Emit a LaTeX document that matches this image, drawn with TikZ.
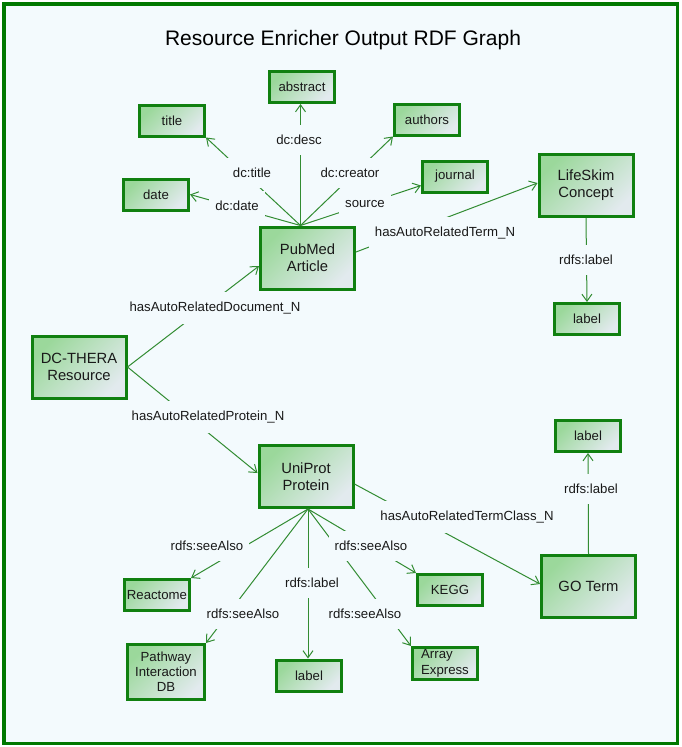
\documentclass[tikz,border=0pt]{standalone}
\usepackage{fontspec}
\setmainfont{Liberation Sans}
\usetikzlibrary{arrows.meta}
\definecolor{bgc}{RGB}{243,250,253}
\definecolor{framec}{RGB}{0,120,0}
\definecolor{boxc}{RGB}{16,128,16}
\definecolor{edgec}{RGB}{50,140,50}
\definecolor{gA}{RGB}{155,216,155}
\definecolor{gB}{RGB}{226,234,238}
\definecolor{txt}{RGB}{25,25,25}
\begin{document}
\begin{tikzpicture}[x=1pt,y=1pt,
  box/.style={draw=boxc, line width=3pt, top color=gA, bottom color=gB, shading angle=45, inner sep=0pt, text=txt, align=center},
  small/.style={box, minimum width=65pt, minimum height=31pt, font=\fontsize{13.2}{15.5}\selectfont},
  big/.style={box, minimum width=94pt, minimum height=62pt, font=\fontsize{14.8}{16.7}\selectfont},
  lbl/.style={fill=bgc, inner xsep=6pt, inner ysep=10pt, text=txt, font=\fontsize{13.2}{15}\selectfont},
  rel/.style={draw=edgec, line width=1pt, -{Straight Barb[length=7pt,width=10pt]}}]
\useasboundingbox (0,0) rectangle (681,-747);
\fill[white] (0,0) rectangle (681,-747);
\draw[framec, line width=3.5pt, fill=bgc] (3.75,-3.75) rectangle (677.25,-743.25);

\node[font=\fontsize{21}{25}\selectfont, text=black, anchor=base] (ttl) at (343,-45) {Resource Enricher Output RDF Graph};

% nodes
\node[small] (abstract) at (302,-87) {abstract};
\node[small] (title) at (172,-120.5) {title};
\node[small] (authors) at (427,-119.5) {authors};
\node[small] (date) at (156,-194.5) {date};
\node[small] (journal) at (455,-176.5) {journal};
\node[big] (pub) at (307.5,-258) {PubMed\\Article};
\node[big] (life) at (586,-185.5) {LifeSkim\\Concept};
\node[small] (lab1) at (587,-319) {label};
\node[big] (dc) at (79,-367) {DC-THERA\\Resource};
\node[big] (uni) at (306,-476.5) {UniProt\\Protein};
\node[small] (lab2) at (588,-436) {label};
\node[big] (go) at (588.5,-586.5) {GO Term};
\node[small] (reactome) at (157,-595) {Reactome};
\node[small] (kegg) at (450,-590) {KEGG};
\node[box, minimum width=77pt, minimum height=55pt, font=\fontsize{13.2}{15}\selectfont] (pathway) at (166,-672) {Pathway\\Interaction\\DB};
\node[small] (lab3) at (309,-675.5) {label};
\node[small, align=left, minimum height=32pt, font=\fontsize{13.2}{16}\selectfont] (array) at (445,-663.5) {Array\\Express};

% connectors
\coordinate (pubtop) at ([xshift=-7pt]pub.north);
\draw[rel] (pubtop) -- (pubtop |- abstract.south);
\draw[rel] (pubtop) -- (title.south east);
\draw[rel] (pubtop) -- (date.east);
\draw[rel] (pubtop) -- (authors.south west);
\draw[rel] (pubtop) -- ([yshift=-9pt]journal.west);
\draw[rel] ([yshift=6pt]pub.east) -- ([yshift=2.5pt]life.west);
\draw[rel] (life.south) -- (lab1.north);
\draw[rel] (dc.east) -- ([yshift=-8pt]pub.west);
\draw[rel] (dc.east) -- ([yshift=3.5pt]uni.west);
\draw[rel] ([yshift=-7.5pt]uni.east) -- ([yshift=2.5pt]go.west);
\draw[rel] (go.north) -- (lab2.south);
\coordinate (unibot) at ([xshift=2pt]uni.south);
\draw[rel] (unibot) -- (reactome.north east);
\draw[rel] (unibot) -- (pathway.north east);
\draw[rel] (unibot) -- (unibot |- lab3.north);
\draw[rel] (unibot) -- (kegg.north west);
\draw[rel] (unibot) -- (array.north west);

% edge labels
\node[lbl] (l1) at (299,-140) {dc:desc};
\node[lbl] (l2) at (252,-173) {dc:title};
\node[lbl] (l3) at (350,-173) {dc:creator};
\node[lbl] (l4) at (237,-206) {dc:date};
\node[lbl] (l5) at (365,-204) {source};
\node[lbl] (l6) at (445,-233) {hasAutoRelatedTerm\_N};
\node[lbl] (l7) at (586,-260) {rdfs:label};
\node[lbl] (l8) at (215,-308) {hasAutoRelatedDocument\_N};
\node[lbl] (l9) at (208,-417) {hasAutoRelatedProtein\_N};
\node[lbl] (l10) at (467,-517) {hasAutoRelatedTermClass\_N};
\node[lbl] (l11) at (591,-489) {rdfs:label};
\node[lbl] (l12) at (207,-546) {rdfs:seeAlso};
\node[lbl] (l13) at (371,-546) {rdfs:seeAlso};
\node[lbl] (l14) at (243,-614) {rdfs:seeAlso};
\node[lbl] (l15) at (312,-583) {rdfs:label};
\node[lbl] (l16) at (365,-614) {rdfs:seeAlso};
\end{tikzpicture}
\end{document}
